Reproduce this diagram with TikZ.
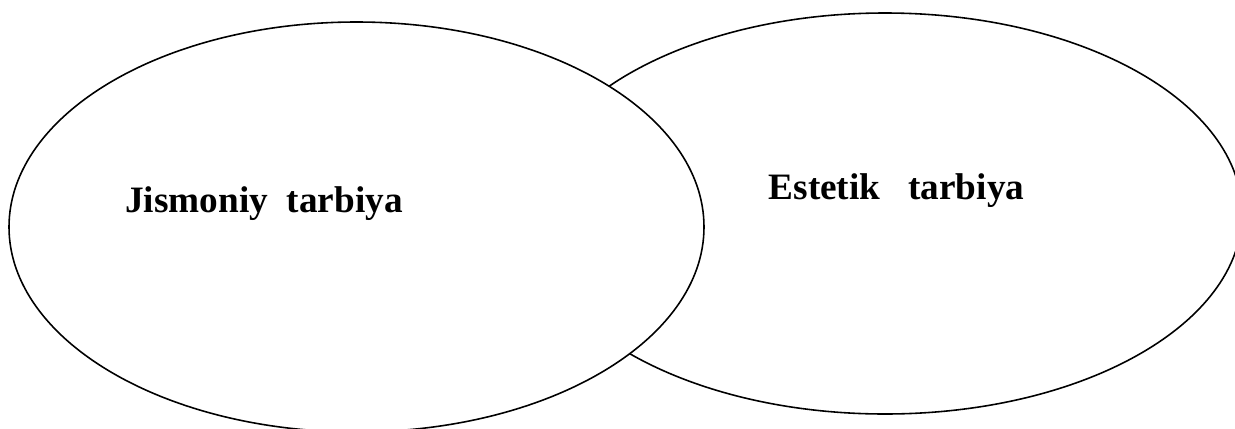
\documentclass[tikz,border=0pt]{standalone}
\usepackage{fontspec}
\setmainfont{Liberation Serif}
\usetikzlibrary{shapes.geometric}

\begin{document}
\begin{tikzpicture}[
		venn/.style={ellipse, draw, line width=0.9pt, inner sep=0pt},
		lbl/.style={anchor=base, font=\fontsize{21.2}{25}\selectfont\bfseries}]
		\useasboundingbox (0, 0) rectangle (24.7, 8.56);
		\clip (0, 0) rectangle (24.7, 8.56);

		% right ellipse first, the left one covers it
		\node [venn, minimum width=14.28cm, minimum height=8.02cm] (este) at (17.70, 4.29) {};
		\node [venn, fill=white, minimum width=13.90cm, minimum height=8.20cm] (jism) at (7.13, 4.02) {};

		\node [lbl] (jismtxt) at (5.28, 4.32) {Jismoniy~~tarbiya};
		\node [lbl] (estetxt) at (17.93, 4.58) {Estetik~~~tarbiya};
	\end{tikzpicture}
\end{document}
